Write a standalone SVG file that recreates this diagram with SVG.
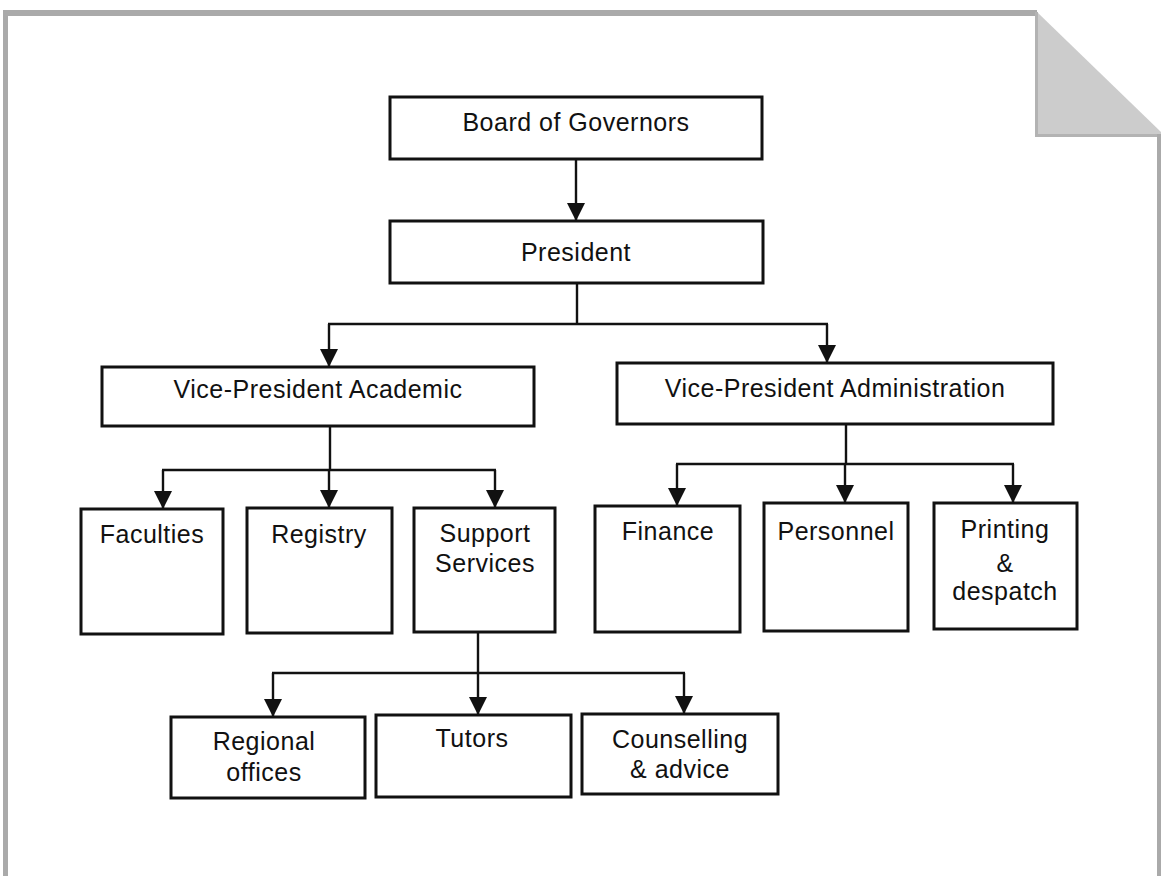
<svg xmlns="http://www.w3.org/2000/svg" width="1161" height="876" viewBox="0 0 1161 876">
<style>
.box{fill:#fff;stroke:#111;stroke-width:3}
.lbl{font-family:"Liberation Sans",Arial,sans-serif;font-size:25px;letter-spacing:0.5px;fill:#111;text-anchor:middle}
.con{fill:none;stroke:#111;stroke-width:2.4}
.arr{marker-end:url(#ah)}
</style>
<defs>
<marker id="ah" viewBox="0 0 18 18" markerWidth="18" markerHeight="18" refX="18" refY="9" orient="auto" markerUnits="userSpaceOnUse">
<path d="M0,0 L18,9 L0,18 z" fill="#111"/>
</marker>
</defs>
<rect width="1161" height="876" fill="#fff"/>
<g id="page">
<rect x="3" y="10" width="1034" height="6" fill="#aaaaaa"/>
<rect x="3" y="10" width="5" height="866" fill="#aaaaaa"/>
<polygon points="1037,12 1161,132 1161,137 1037,137" fill="#cccccc"/>
<rect x="1035" y="12" width="3" height="125" fill="#b3b3b3"/>
<rect x="1035" y="134" width="126" height="3" fill="#b3b3b3"/>
<rect x="1157" y="134" width="4" height="742" fill="#aaaaaa"/>
</g>
<g id="connectors">
<path class="con arr" d="M576,159 V221"/>
<path class="con" d="M577,283 V324 M328,324 H828"/>
<path class="con arr" d="M329,324 V367"/>
<path class="con arr" d="M827,324 V363"/>
<path class="con" d="M330,426 V470 M162,470 H496"/>
<path class="con arr" d="M163,470 V509"/>
<path class="con arr" d="M329,470 V508"/>
<path class="con arr" d="M495,470 V508"/>
<path class="con" d="M846,424 V464 M676,464 H1014"/>
<path class="con arr" d="M677,464 V506"/>
<path class="con arr" d="M845,464 V503"/>
<path class="con arr" d="M1013,464 V503"/>
<path class="con" d="M478,632 V673 M272,673 H685"/>
<path class="con arr" d="M273,673 V717"/>
<path class="con arr" d="M478,673 V715"/>
<path class="con arr" d="M684,673 V714"/>
</g>
<g id="board">
<rect class="box" x="390" y="97" width="372" height="62"/>
<text class="lbl" x="576" y="131">Board of Governors</text>
</g>
<g id="president">
<rect class="box" x="390" y="221" width="373" height="62"/>
<text class="lbl" x="576" y="261">President</text>
</g>
<g id="vp-academic">
<rect class="box" x="102" y="367" width="432" height="59"/>
<text class="lbl" x="318" y="398">Vice-President Academic</text>
</g>
<g id="vp-administration">
<rect class="box" x="617" y="363" width="436" height="61"/>
<text class="lbl" x="835" y="397">Vice-President Administration</text>
</g>
<g id="faculties">
<rect class="box" x="81" y="509" width="142" height="125"/>
<text class="lbl" x="152" y="543">Faculties</text>
</g>
<g id="registry">
<rect class="box" x="247" y="508" width="145" height="125"/>
<text class="lbl" x="319" y="543">Registry</text>
</g>
<g id="support-services">
<rect class="box" x="414" y="508" width="141" height="124"/>
<text class="lbl" x="485" y="542">Support</text>
<text class="lbl" x="485" y="572">Services</text>
</g>
<g id="finance">
<rect class="box" x="595" y="506" width="145" height="126"/>
<text class="lbl" x="668" y="540">Finance</text>
</g>
<g id="personnel">
<rect class="box" x="764" y="503" width="144" height="128"/>
<text class="lbl" x="836" y="540">Personnel</text>
</g>
<g id="printing">
<rect class="box" x="934" y="503" width="143" height="126"/>
<text class="lbl" x="1005" y="538">Printing</text>
<text class="lbl" x="1005" y="572">&amp;</text>
<text class="lbl" x="1005" y="600">despatch</text>
</g>
<g id="regional-offices">
<rect class="box" x="171" y="717" width="194" height="81"/>
<text class="lbl" x="264" y="750">Regional</text>
<text class="lbl" x="264" y="781">offices</text>
</g>
<g id="tutors">
<rect class="box" x="376" y="715" width="195" height="82"/>
<text class="lbl" x="472" y="747">Tutors</text>
</g>
<g id="counselling">
<rect class="box" x="582" y="714" width="196" height="80"/>
<text class="lbl" x="680" y="748">Counselling</text>
<text class="lbl" x="680" y="778">&amp; advice</text>
</g>
</svg>
